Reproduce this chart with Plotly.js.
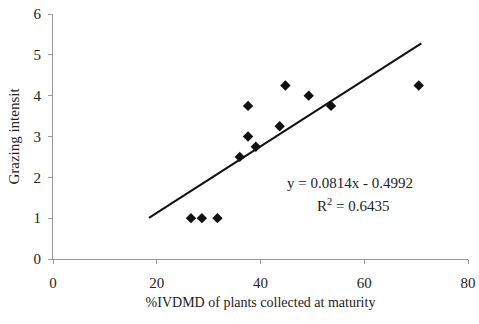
<!DOCTYPE html>
<html>
<head>
<meta charset="utf-8">
<script src="https://cdn.plot.ly/plotly-3.0.1.min.js"></script>
<style>html,body{margin:0;padding:0;background:#fff;}#chart{width:479px;height:324px;}</style>
</head>
<body>
<div id="chart"></div>
<script>
// Data
const ivdmd = [26.6, 28.7, 31.7, 36.0, 37.6, 39.1, 37.6, 43.7, 44.8, 49.3, 53.6, 70.5];
const grazing = [1, 1, 1, 2.5, 3, 2.75, 3.75, 3.25, 4.25, 4, 3.75, 4.25];
const trendSlope = 0.0814;
const trendIntercept = -0.4992;
const trendX = [18.5, 71];
const xTicks = [0, 20, 40, 60, 80];
const yTicks = [0, 1, 2, 3, 4, 5, 6];
const eqText = "y = 0.0814x - 0.4992";
const r2Text = "R<sup>2</sup> = 0.6435";

const trendY = trendX.map(x => trendSlope * x + trendIntercept);
const serif = "Liberation Serif, Times New Roman, serif";

const data = [
  {x: trendX, y: trendY, mode: 'lines', type: 'scatter', line: {color: '#111', width: 2}, hoverinfo: 'skip'},
  {x: ivdmd, y: grazing, mode: 'markers', type: 'scatter', marker: {symbol: 'diamond', size: 8, color: '#111'}}
];
const layout = {
  width: 479, height: 324,
  margin: {l: 53, r: 11, t: 14, b: 65},
  paper_bgcolor: '#fff', plot_bgcolor: '#fff',
  showlegend: false,
  font: {family: serif, color: '#222', size: 15},
  xaxis: {range: [0, 80], tickvals: xTicks, showgrid: false, zeroline: false,
          showline: true, linecolor: '#999', linewidth: 1, ticks: 'outside', ticklen: 4, tickcolor: '#999',
          tickfont: {size: 15, family: serif}, ticklabelstandoff: 6,
          title: {text: '%IVDMD of plants collected at maturity', font: {size: 14, family: serif}, standoff: 7}},
  yaxis: {range: [0, 6], tickvals: yTicks, showgrid: false, zeroline: false,
          showline: true, linecolor: '#999', linewidth: 1, ticks: 'outside', ticklen: 4, tickcolor: '#999',
          tickfont: {size: 15, family: serif}, ticklabelstandoff: 4,
          title: {text: 'Grazing intensit', font: {size: 15, family: serif}, standoff: 10}},
  annotations: [
    {x: 57.3, y: 1.87, xref: 'x', yref: 'y', text: eqText, showarrow: false, font: {size: 15, family: serif, color: '#222'}},
    {x: 57.8, y: 1.33, xref: 'x', yref: 'y', text: r2Text, showarrow: false, font: {size: 15, family: serif, color: '#222'}}
  ]
};
Plotly.newPlot('chart', data, layout, {displayModeBar: false, staticPlot: true});
</script>
</body>
</html>
